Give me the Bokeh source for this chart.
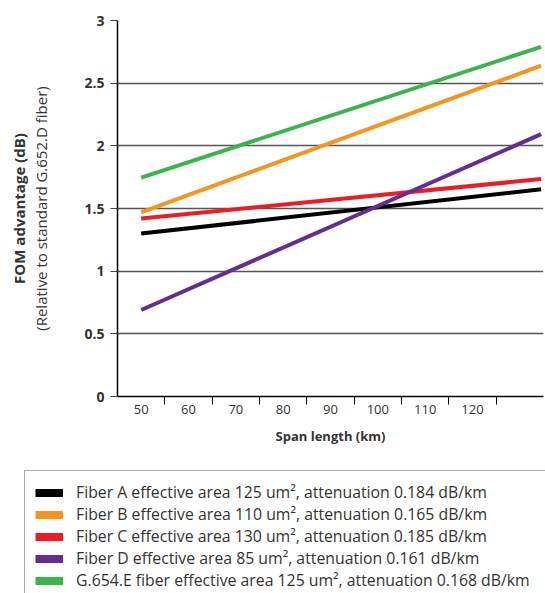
from bokeh.plotting import figure
from bokeh.layouts import column
from bokeh.models import Range1d, LinearAxis, FixedTicker, Legend, LegendItem, Title
from bokeh.embed import file_html
from bokeh.resources import INLINE

# ---- data ----
span_km = [50, 134.5]
fiber_a = [1.30, 1.653]
fiber_b = [1.47, 2.64]
fiber_c = [1.42, 1.735]
fiber_d = [0.69, 2.093]
fiber_e = [1.746, 2.79]
series = [fiber_a, fiber_b, fiber_c, fiber_d, fiber_e]
series_names = [
    "Fiber A effective area 125 um\u00b2, attenuation 0.184 dB/km",
    "Fiber B effective area 110 um\u00b2, attenuation 0.165 dB/km",
    "Fiber C effective area 130 um\u00b2, attenuation 0.185 dB/km",
    "Fiber D effective area 85 um\u00b2, attenuation 0.161 dB/km",
    "G.654.E fiber effective area 125 um\u00b2, attenuation 0.168 dB/km",
]
colors = ["#000000", "#F7941E", "#ED1C24", "#662D91", "#39B54A"]
x_label_values = [50, 60, 70, 80, 90, 100, 110, 120]
x_tick_bounds = [55, 65, 75, 85, 95, 105, 115, 125]
y_ticks = [0, 0.5, 1, 1.5, 2, 2.5, 3]
y_tick_labels = ["0", "0.5", "1", "1.5", "2", "2.5", "3"]

FONT = "Open Sans"
TXT = "#333333"

p = figure(width=545, height=466, output_backend="svg", toolbar_location=None,
           x_range=Range1d(45, 135), y_range=Range1d(0, 3),
           x_axis_location=None, y_axis_location="left",
           min_border_left=117, min_border_right=2, min_border_top=20,
           min_border_bottom=70)
p.frame_align = False
p.outline_line_color = None
p.xgrid.visible = False
p.ygrid.ticker = FixedTicker(ticks=y_ticks)
p.ygrid.grid_line_color = "#555555"
p.ygrid.grid_line_width = 1.3

# y axis
ya = p.yaxis[0]
ya.ticker = FixedTicker(ticks=y_ticks)
ya.major_label_overrides = {t: s for t, s in zip(y_ticks, y_tick_labels)}
ya.major_label_text_font = FONT
ya.major_label_text_font_style = "bold"
ya.major_label_text_font_size = "14px"
ya.major_label_text_color = TXT
ya.major_tick_out = 7
ya.major_tick_in = 0
ya.minor_tick_line_color = None
ya.major_tick_line_color = "#444444"
ya.axis_line_color = "#000000"
ya.axis_line_width = 1.5
ya.major_label_standoff = 6
ya.axis_label = "(Relative to standard G.652.D fiber)"
ya.axis_label_text_font = FONT
ya.axis_label_text_font_style = "normal"
ya.axis_label_text_font_size = "15px"
ya.axis_label_text_color = TXT
ya.axis_label_standoff = 30

p.add_layout(Title(text="FOM advantage (dB)", align="center", text_font=FONT,
                   text_font_size="15px", text_font_style="bold",
                   text_color=TXT, standoff=0), "left")

# x axis: tick marks at category boundaries
xa_ticks = LinearAxis(ticker=FixedTicker(ticks=x_tick_bounds))
xa_ticks.major_label_overrides = {t: "" for t in x_tick_bounds}
xa_ticks.major_label_text_font_size = "0px"
xa_ticks.major_label_standoff = 0
xa_ticks.major_tick_out = 8
xa_ticks.major_tick_in = 0
xa_ticks.minor_tick_line_color = None
xa_ticks.major_tick_line_color = "#000000"
xa_ticks.axis_line_color = "#000000"
xa_ticks.axis_line_width = 1.3
p.add_layout(xa_ticks, "below")

# x axis: labels
xa_lab = LinearAxis(ticker=FixedTicker(ticks=x_label_values))
xa_lab.axis_line_color = None
xa_lab.major_tick_line_color = None
xa_lab.minor_tick_line_color = None
xa_lab.major_tick_out = 0
xa_lab.major_tick_in = 0
xa_lab.major_label_standoff = 0
xa_lab.major_label_text_font = FONT
xa_lab.major_label_text_font_size = "13px"
xa_lab.major_label_text_color = TXT
xa_lab.axis_label = "Span length (km)"
xa_lab.axis_label_text_font = FONT
xa_lab.axis_label_text_font_style = "bold"
xa_lab.axis_label_text_font_size = "13px"
xa_lab.axis_label_text_color = TXT
xa_lab.axis_label_standoff = 10
p.add_layout(xa_lab, "below")

for vals, c in zip(series, colors):
    p.line(span_km, vals, line_color=c, line_width=4)

# legend figure (its ranges keep the swatch lines out of view)
pl = figure(width=545, height=127, output_backend="svg", toolbar_location=None,
            x_range=Range1d(0, 1), y_range=Range1d(0, 1),
            x_axis_location=None, y_axis_location=None,
            min_border_left=0, min_border_right=0, min_border_top=0,
            min_border_bottom=0)
pl.frame_align = False
pl.outline_line_color = None
pl.xgrid.visible = False
pl.ygrid.visible = False

items = []
for vals, name, c in zip(series, series_names, colors):
    lg = pl.line(span_km, vals, line_color=c, line_width=8)
    items.append(LegendItem(label=name, renderers=[lg]))

legend = Legend(items=items, location=(24, -9))
legend.label_text_font = FONT
legend.label_text_font_size = "15.8px"
legend.label_text_color = TXT
legend.glyph_width = 28
legend.glyph_height = 21
legend.label_height = 21
legend.label_width = 480
legend.spacing = 0
legend.padding = 10
legend.margin = 0
legend.label_standoff = 13
legend.border_line_color = "#555555"
legend.border_line_width = 1
legend.background_fill_alpha = 1
pl.add_layout(legend, "center")

layout = column(p, pl, spacing=0)
open("out.html", "w").write(file_html(layout, INLINE))
